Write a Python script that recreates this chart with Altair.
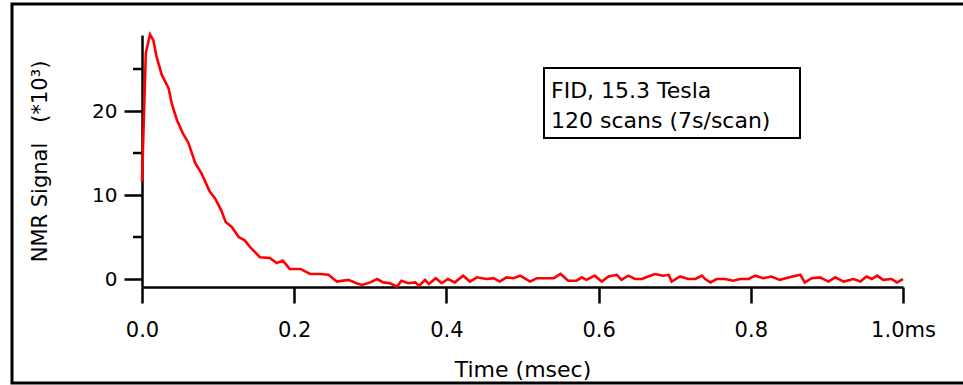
import altair as alt
import pandas as pd

# Free induction decay: time (ms) and signal (x10^3)
time_ms = [0.000, 0.005, 0.0105, 0.015, 0.019, 0.026, 0.035, 0.039, 0.046, 0.054,
           0.061, 0.070, 0.078, 0.089, 0.096, 0.104, 0.110, 0.118, 0.127, 0.135,
           0.142, 0.155, 0.168, 0.177, 0.185, 0.194, 0.208, 0.221, 0.234, 0.245,
           0.256, 0.271, 0.282, 0.289, 0.300, 0.309, 0.317, 0.326, 0.335, 0.341,
           0.350, 0.359, 0.364, 0.372, 0.377, 0.386, 0.394, 0.402, 0.411, 0.422,
           0.431, 0.440, 0.453, 0.462, 0.470, 0.479, 0.488, 0.497, 0.510, 0.519,
           0.530, 0.541, 0.550, 0.560, 0.571, 0.578, 0.584, 0.595, 0.604, 0.613,
           0.624, 0.630, 0.639, 0.648, 0.657, 0.665, 0.674, 0.685, 0.692, 0.696,
           0.707, 0.718, 0.727, 0.736, 0.740, 0.747, 0.755, 0.766, 0.777, 0.786,
           0.797, 0.806, 0.816, 0.827, 0.838, 0.851, 0.865, 0.871, 0.880, 0.891,
           0.902, 0.911, 0.922, 0.935, 0.944, 0.952, 0.959, 0.966, 0.974, 0.985,
           0.992, 1.000]
signal = [11.6, 26.9, 29.1, 28.4, 26.5, 24.3, 22.7, 20.9, 18.9, 17.3,
          16.2, 13.8, 12.6, 10.4, 9.6, 8.2, 6.8, 6.2, 5.0, 4.6,
          3.8, 2.6, 2.5, 1.9, 2.2, 1.2, 1.2, 0.6, 0.6, 0.5,
          -0.3, -0.1, -0.5, -0.7, -0.4, 0.0, -0.4, -0.5, -0.9, -0.2,
          -0.5, -0.4, -0.8, -0.1, -0.6, 0.1, -0.5, 0.0, -0.4, 0.4,
          -0.3, 0.2, 0.0, 0.1, -0.3, 0.2, 0.1, 0.4, -0.3, 0.1,
          0.1, 0.1, 0.6, -0.2, -0.2, 0.2, -0.1, 0.4, -0.3, 0.3,
          0.5, -0.1, 0.4, 0.0, 0.0, 0.3, 0.6, 0.4, 0.5, -0.3,
          0.3, 0.0, 0.0, 0.4, 0.0, -0.4, 0.0, 0.0, -0.2, 0.0,
          0.0, 0.4, 0.1, 0.3, -0.1, 0.2, 0.5, -0.4, 0.1, 0.2,
          -0.3, 0.2, -0.3, 0.0, -0.3, 0.3, 0.0, 0.4, -0.1, 0.0,
          -0.4, 0.0]

x_ticks = [0.0, 0.2, 0.4, 0.6, 0.8, 1.0]
y_major = [0, 10, 20]
y_minor = [5, 15, 25]
note_lines = ["FID, 15.3 Tesla", "120 scans (7s/scan)"]

FONT = "DejaVu Sans"
W, H = 761, 252

curve = pd.DataFrame({"time": time_ms, "signal": signal})
minor = pd.DataFrame({"signal": y_minor})
one = pd.DataFrame({"k": [0]})

x_scale = alt.Scale(domain=[0, 1.0], nice=False, zero=False)
y_scale = alt.Scale(domain=[-0.95, 29.05], nice=False, zero=False)

x_axis = alt.Axis(
    values=x_ticks, grid=False, title="Time (msec)",
    labelExpr="datum.value == 1 ? '1.0ms' : format(datum.value, '.1f')",
    tickSize=16, tickWidth=2.5, tickColor="black",
    domainWidth=2.5, domainColor="black",
    labelFont=FONT, labelFontSize=21, labelColor="black", labelPadding=16,
    labelFlush=False, labelOverlap=False,
    titleFont=FONT, titleFontSize=22, titleFontWeight="normal", titleColor="black",
    titleX=W / 2, titleY=89, titleAlign="center", titleBaseline="alphabetic",
)
# non-breaking spaces keep the wide gap before the units
y_axis = alt.Axis(
    values=y_major, grid=False, title="NMR Signal\u00a0\u00a0\u00a0(*10³)",
    tickSize=18, tickWidth=2.5, tickColor="black",
    domainWidth=2.5, domainColor="black",
    labelFont=FONT, labelFontSize=20, labelColor="black", labelPadding=7,
    titleFont=FONT, titleFontSize=21, titleFontWeight="normal", titleColor="black",
    titleX=-102, titleY=H / 2, titleAngle=-90, titleAlign="center",
    titleBaseline="middle",
)

y_enc = alt.Y("signal:Q", scale=y_scale, axis=y_axis)

line = alt.Chart(curve).mark_line(color="#ff0000", strokeWidth=2.6).encode(
    x=alt.X("time:Q", scale=x_scale, axis=x_axis),
    y=y_enc,
)

# short unlabeled ticks halfway between the labeled ones
minor_ticks = alt.Chart(minor).mark_rule(color="black", strokeWidth=2.5).encode(
    x=alt.value(-9), x2=alt.value(0), y=y_enc,
)

frame = alt.Chart(one).mark_rect(filled=False, stroke="black", strokeWidth=3).encode(
    x=alt.value(-130), x2=alt.value(840), y=alt.value(-31), y2=alt.value(348),
)

note_box = alt.Chart(one).mark_rect(filled=False, stroke="black", strokeWidth=2).encode(
    x=alt.value(402), x2=alt.value(658), y=alt.value(33), y2=alt.value(103),
)

note_text = alt.Chart(one).mark_text(
    align="left", baseline="alphabetic", font=FONT, fontSize=22,
    color="black", lineBreak="\n", lineHeight=30,
).encode(
    x=alt.value(409), y=alt.value(63), text=alt.value("\n".join(note_lines)),
)

chart = alt.layer(frame, minor_ticks, line, note_box, note_text).properties(
    width=W, height=H,
    padding={"left": 142, "top": 35, "right": 60, "bottom": 98},
    autosize=alt.AutoSizeParams(type="none"),
    background="white",
).configure_view(stroke=None)

chart.save("out.html", embed_options={"renderer": "svg", "actions": False})
